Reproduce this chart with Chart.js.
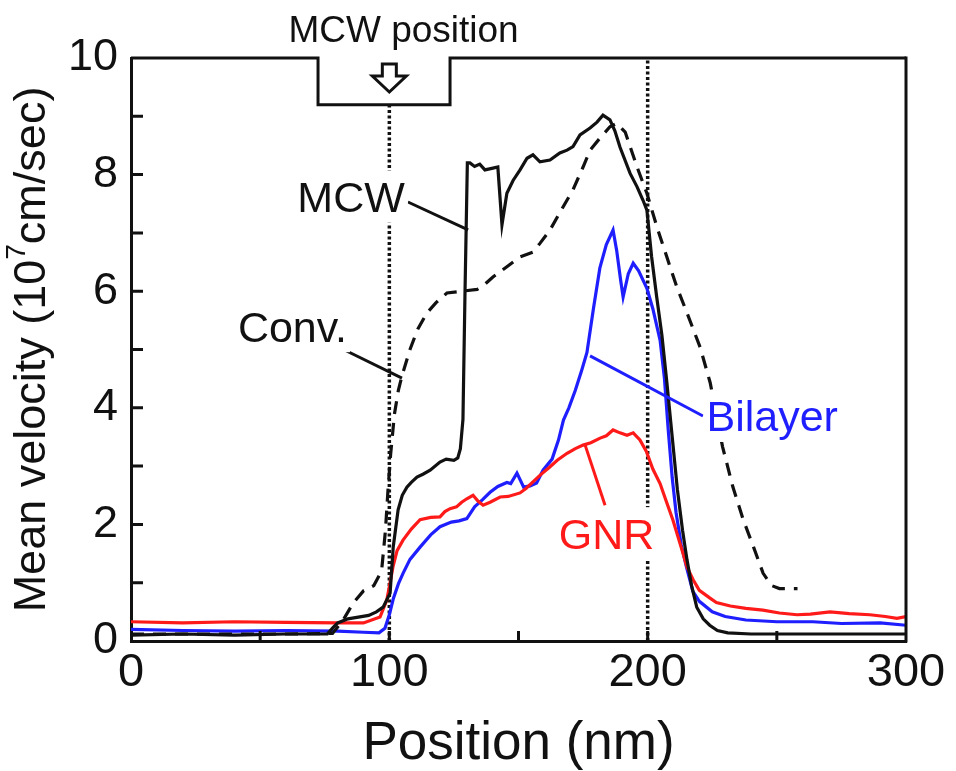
<!DOCTYPE html>
<html>
<head>
<meta charset="utf-8">
<script src="https://cdn.jsdelivr.net/npm/chart.js@4.4.1/dist/chart.umd.min.js"></script>
<style>
  html, body { margin: 0; padding: 0; background: #fff; }
  #wrap { width: 956px; height: 771px; position: relative; }
</style>
</head>
<body>
<div id="wrap"><canvas id="chart"></canvas></div>
<script>
const FONT = '"Liberation Sans", Arial, sans-serif';
const INK = "#111111";
const BLUE = "#1e1eff";
const RED = "#ff1a1a";

// [position nm, mean velocity 1e7 cm/s]
const mcw = [[0,0.1],[20,0.12],[40,0.1],[60,0.12],[76,0.12],[78,0.22],[80,0.31],[84,0.38],[88,0.41],[92,0.44],[95,0.5],[97.6,0.58],
  [100.3,0.82],[101.5,1.61],[103.4,2.25],[105,2.5],[106.8,2.64],[108.5,2.72],[110.7,2.81],[113,2.86],[115.8,2.93],[119.6,3.07],
  [122,3.12],[125,3.1],[126.5,3.14],[127.5,3.3],[128.5,3.8],[129.3,6.0],[130.2,8.2],[131.2,8.2],[133,8.14],[135,8.18],[137,8.08],
  [140.1,8.11],[142,8.13],[143.6,7.14],[145.5,7.68],[147.9,7.9],[150.6,8.08],[153.3,8.28],[155.6,8.34],[158.3,8.22],[162.2,8.25],
  [166,8.37],[168.8,8.42],[171.1,8.48],[173.8,8.68],[177.7,8.8],[180.4,8.9],[182.7,9.02],[185.4,8.94],[187.3,8.75],[189.3,8.47],
  [193.2,8.02],[195.9,7.79],[198.2,7.56],[199.7,7.39],[201.5,6.6],[203.5,5.9],[205.5,5.25],[207.4,4.45],[209.5,3.5],[211.5,2.6],
  [213.5,1.9],[215.2,1.4],[217,0.95],[219,0.58],[221.5,0.38],[224,0.27],[227,0.18],[231,0.14],[240,0.12],[260,0.12],[280,0.12],[300,0.12]];

const conv = [[0,0.12],[20,0.12],[40,0.12],[60,0.12],[78,0.13],[82,0.35],[86,0.65],[90,0.86],[94,0.95],[97,1.2],[98.5,1.9],
  [99.5,2.6],[100.5,3.2],[102,3.9],[103.5,4.3],[104.9,4.55],[108,5.0],[111,5.35],[114.6,5.63],[118,5.8],[122.3,5.97],[128,6.0],
  [134,6.03],[137,6.12],[140,6.24],[145.5,6.42],[150.6,6.59],[155.6,6.67],[158.3,6.82],[162.2,7.05],[167.3,7.45],[171.1,7.74],
  [175,8.13],[177.7,8.42],[181.6,8.63],[185.4,8.82],[188,8.88],[191.3,8.73],[195.9,8.13],[199.7,7.68],[203.6,7.1],[207.4,6.59],
  [211.3,6.07],[215.2,5.63],[220.3,5.04],[224.2,4.43],[229,3.33],[233,2.64],[237,2.08],[241,1.61],[244.7,1.16],[248,0.95],
  [251,0.9],[258,0.9]];

const bilayer = [[0,0.2],[20,0.18],[40,0.17],[60,0.18],[80,0.17],[90,0.15],[96,0.14],[98.3,0.22],[100,0.45],[101.5,0.72],
  [103.5,0.98],[105.3,1.16],[108,1.4],[111.9,1.61],[116,1.82],[119.6,1.96],[124,2.04],[127,2.06],[130,2.1],[133,2.3],[136,2.42],
  [139,2.55],[142,2.65],[145.5,2.72],[147,2.7],[149.4,2.88],[152,2.64],[154.5,2.66],[157,2.71],[159.5,2.93],[163,3.12],
  [165.5,3.45],[167.4,3.79],[169.5,4.0],[172,4.3],[174.5,4.65],[176.5,4.95],[179,5.7],[181.5,6.4],[184,6.8],[186.6,7.05],
  [188,6.7],[189.5,6.2],[190.5,5.9],[192.5,6.3],[194.4,6.48],[196.5,6.35],[199.7,6.05],[202,5.7],[204.8,5.16],[206.5,4.5],
  [208,3.6],[209.5,2.8],[211,2.2],[213,1.65],[215,1.27],[217.5,0.85],[220,0.68],[225,0.5],[230,0.42],[238,0.36],[250,0.33],
  [264,0.33],[275,0.3],[290,0.31],[300,0.27]];

const gnr = [[0,0.33],[20,0.31],[40,0.33],[60,0.32],[80,0.31],[90,0.31],[96.4,0.41],[99,0.7],[100.5,1.05],[101.4,1.27],[103,1.55],
  [105.3,1.73],[108.5,1.92],[111.9,2.08],[116,2.12],[119.6,2.13],[121.5,2.22],[123.5,2.27],[126,2.3],[128,2.38],[130,2.44],
  [132.4,2.5],[134.3,2.4],[136.3,2.33],[139,2.38],[142.9,2.47],[146,2.48],[150.6,2.54],[153,2.62],[155.6,2.73],[158.5,2.85],
  [162,2.98],[165,3.1],[168.8,3.22],[172,3.3],[175,3.36],[178,3.4],[181.6,3.48],[184,3.52],[186.6,3.62],[189.3,3.57],[192,3.53],
  [194.4,3.57],[197,3.45],[199.5,3.25],[202,2.95],[204.8,2.7],[207.4,2.37],[209.8,2.07],[211.3,1.85],[213.7,1.5],[215.2,1.27],
  [217.6,1.05],[220,0.87],[224,0.74],[226.6,0.66],[232,0.6],[238,0.56],[244.6,0.53],[251,0.48],[257.8,0.45],[263,0.46],
  [270.6,0.5],[278,0.47],[286,0.45],[292,0.42],[296.5,0.39],[300,0.42]];

// dotted guides at the gate edges, and the top frame with the MCW notch
const guidePos = [100, 200];
const guideTop = [9.2, 10];
const notch = [[0,10],[72.4,10],[72.4,9.2],[123.5,9.2],[123.5,10],[300,10]];

const xTickLabels = [0, 100, 200, 300];
const yTickLabels = [0, 2, 4, 6, 8, 10];
const xMinorTicks = [50, 100, 150, 200, 250];
const yMinorTicks = [1, 2, 3, 4, 5, 6, 7, 8, 9];

const toXY = arr => arr.map(p => ({ x: p[0], y: p[1] }));

function curve(label, pts, color, order, dash) {
  return {
    label: label,
    data: toXY(pts),
    borderColor: color,
    borderWidth: 3.2,
    borderDash: dash || [],
    pointRadius: 0,
    showLine: true,
    tension: 0,
    order: order
  };
}

const datasets = [
  curve("MCW", mcw, INK, 1),
  curve("Conv.", conv, INK, 2, [13, 9]),
  curve("GNR", gnr, RED, 3),
  curve("Bilayer", bilayer, BLUE, 4)
];
guidePos.forEach((p, i) => {
  datasets.push({
    data: [{ x: p, y: 0 }, { x: p, y: guideTop[i] }],
    borderColor: INK, borderWidth: 3.5, borderDash: [3, 2.5],
    pointRadius: 0, showLine: true, order: 6
  });
});
datasets.push({
  data: toXY(notch), borderColor: INK, borderWidth: 3,
  pointRadius: 0, showLine: true, order: 0, clip: false
});

// text callouts with leader lines (data coordinates)
const callouts = [
  { text: "MCW", color: INK, at: [85.2, 7.62], from: [107.2, 7.53], to: [130.5, 7.05] },
  { text: "Conv.", color: INK, at: [62.5, 5.40], from: [80.9, 5.03], to: [104.9, 4.51] },
  { text: "Bilayer", color: BLUE, at: [248.2, 3.86], from: [177.7, 4.89], to: [221.4, 3.86] },
  { text: "GNR", color: RED, at: [184.1, 1.85], from: [175.8, 3.36], to: [183.5, 2.33] }
];

const decor = {
  id: "decor",
  afterDatasetsDraw(chart) {
    const { ctx, chartArea, scales: { x, y } } = chart;
    ctx.save();
    ctx.strokeStyle = INK;
    ctx.lineWidth = 3;
    // inward tick marks
    ctx.beginPath();
    xMinorTicks.forEach(v => {
      const px = x.getPixelForValue(v);
      ctx.moveTo(px, chartArea.bottom);
      ctx.lineTo(px, chartArea.bottom - 10);
    });
    yMinorTicks.forEach(v => {
      const py = y.getPixelForValue(v);
      ctx.moveTo(chartArea.left, py);
      ctx.lineTo(chartArea.left + 12, py);
    });
    ctx.stroke();

    // right frame edge
    ctx.beginPath();
    ctx.moveTo(chartArea.right, y.getPixelForValue(10) - 1.5);
    ctx.lineTo(chartArea.right, y.getPixelForValue(0) + 1.5);
    ctx.stroke();

    // callouts
    ctx.font = "43px " + FONT;
    callouts.forEach(c => {
      ctx.strokeStyle = c.color;
      ctx.lineWidth = 3;
      ctx.beginPath();
      ctx.moveTo(x.getPixelForValue(c.from[0]), y.getPixelForValue(c.from[1]));
      ctx.lineTo(x.getPixelForValue(c.to[0]), y.getPixelForValue(c.to[1]));
      ctx.stroke();
      const cx = x.getPixelForValue(c.at[0]);
      const cy = y.getPixelForValue(c.at[1]);
      const w = ctx.measureText(c.text).width;
      ctx.fillStyle = "#fff";
      ctx.fillRect(cx - w / 2 - 3, cy - 26, w + 6, 52);
      ctx.fillStyle = c.color;
      ctx.textAlign = "center";
      ctx.textBaseline = "alphabetic";
      ctx.fillText(c.text, cx, cy + 15.5);
    });

    // hollow arrow marking the MCW position
    const ax = x.getPixelForValue(100);
    const top = y.getPixelForValue(10) + 6;
    ctx.beginPath();
    ctx.moveTo(ax - 7, top);
    ctx.lineTo(ax + 7, top);
    ctx.lineTo(ax + 7, top + 12);
    ctx.lineTo(ax + 17, top + 12);
    ctx.lineTo(ax, top + 28);
    ctx.lineTo(ax - 17, top + 12);
    ctx.lineTo(ax - 7, top + 12);
    ctx.closePath();
    ctx.fillStyle = "#fff";
    ctx.fill();
    ctx.strokeStyle = INK;
    ctx.lineWidth = 3;
    ctx.lineJoin = "miter";
    ctx.stroke();

    ctx.fillStyle = INK;
    ctx.font = "37px " + FONT;
    ctx.textAlign = "center";
    ctx.textBaseline = "alphabetic";
    ctx.fillText("MCW position", x.getPixelForValue(105.5), 42);

    // y axis title with superscript
    ctx.translate(33, (chartArea.top + chartArea.bottom) / 2);
    ctx.rotate(-Math.PI / 2);
    const big = "45px " + FONT, small = "28px " + FONT;
    const parts = [["Mean velocity (10", big, 0], ["7", small, -16], ["cm/sec)", big, 0]];
    let total = 0;
    parts.forEach(p => { ctx.font = p[1]; total += ctx.measureText(p[0]).width; });
    let px = -total / 2;
    ctx.textAlign = "left";
    ctx.textBaseline = "middle";
    parts.forEach(p => {
      ctx.font = p[1];
      ctx.fillText(p[0], px, p[2]);
      px += ctx.measureText(p[0]).width;
    });
    ctx.restore();
  }
};

new Chart(document.getElementById("chart"), {
  type: "scatter",
  data: { datasets: datasets },
  options: {
    responsive: true,
    maintainAspectRatio: false,
    animation: false,
    layout: { padding: { top: 58, right: 50, left: 0, bottom: 0 } },
    plugins: { legend: { display: false }, tooltip: { enabled: false } },
    scales: {
      x: {
        type: "linear", min: 0, max: 300,
        afterFit: s => { s.height = 130; },
        ticks: {
          stepSize: 100, autoSkip: false, maxRotation: 0, padding: 4, color: INK,
          font: { family: FONT, size: 47 },
          callback: v => xTickLabels.includes(v) ? String(v) : ""
        },
        grid: { drawOnChartArea: false, drawTicks: false },
        border: { color: INK, width: 3 },
        title: { display: true, text: "Position (nm)", color: INK, font: { family: FONT, size: 53 }, padding: { top: 0, bottom: -5 } }
      },
      y: {
        min: 0, max: 10,
        afterFit: s => { s.width = 131; },
        ticks: {
          stepSize: 2, autoSkip: false, padding: 13, color: INK,
          font: { family: FONT, size: 45 },
          callback: v => yTickLabels.includes(v) ? String(v) : ""
        },
        grid: { drawOnChartArea: false, drawTicks: false },
        border: { color: INK, width: 3 }
      }
    }
  },
  plugins: [decor]
});
</script>
</body>
</html>
